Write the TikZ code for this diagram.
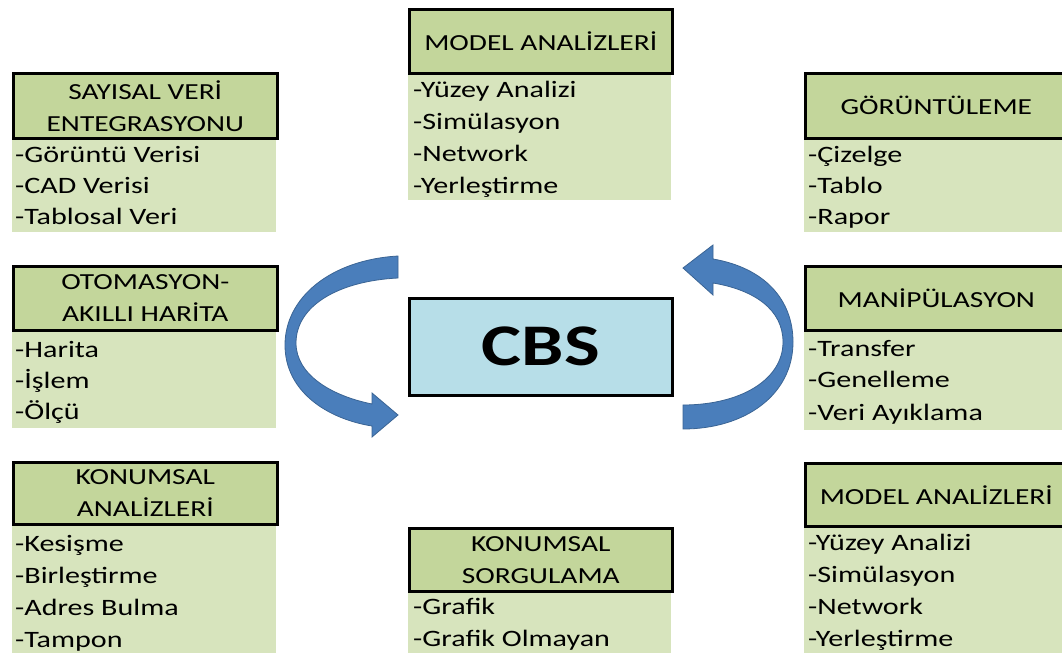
\documentclass[tikz,border=0pt]{standalone}
\usepackage{fontspec}
\setmainfont{Carlito}[FakeStretch=1.28]
\begin{document}
\begin{tikzpicture}[x=1pt,y=-1pt,
  hdr/.style={draw=black,line width=2.6pt,fill=hdrgreen,anchor=north west,inner sep=0pt,align=center,
    font=\fontsize{23}{32}\selectfont},
  bodybox/.style={fill=bodygreen,anchor=north west,inner sep=0pt},
  item/.style={anchor=base west,inner sep=0pt,font=\fontsize{23.5}{28}\selectfont},
  bigarrow/.style={fill=arrowblue,draw=arrowedge,line width=0.8pt}]
\definecolor{hdrgreen}{HTML}{C3D69B}
\definecolor{bodygreen}{HTML}{D7E4BD}
\definecolor{cbsblue}{HTML}{B7DEE8}
\definecolor{arrowblue}{HTML}{4A7EBB}
\definecolor{arrowedge}{HTML}{3A6494}
\useasboundingbox (0,0) rectangle (1062,655);
\fill[white] (0,0) rectangle (1062,655);

% ---------- left column ----------
\node[bodybox,minimum width=264pt,minimum height=95pt] (b1) at (12,137) {};
\node[hdr,minimum width=264pt,minimum height=65pt] (h1) at (12,72) {SAYISAL VERİ\\ENTEGRASYONU};
\node[item] (b1a) at (15,162.5) {-Görüntü Verisi};
\node[item] (b1b) at (15,193.5) {-CAD Verisi};
\node[item] (b1c) at (15,224.5) {-Tablosal Veri};

\node[bodybox,minimum width=264pt,minimum height=99pt] (b2) at (12,329) {};
\node[hdr,minimum width=264pt,minimum height=64pt] (h2) at (12,265) {OTOMASYON-\\AKILLI HARİTA};
\node[item] (b2a) at (15,357.5) {-Harita};
\node[item] (b2b) at (15,388.5) {-İşlem};
\node[item] (b2c) at (15,419.5) {-Ölçü};

\node[bodybox,minimum width=264pt,minimum height=130pt] (b3) at (12,523) {};
\node[hdr,minimum width=264pt,minimum height=62pt] (h3) at (12,461) {KONUMSAL\\ANALİZLERİ};
\node[item] (b3a) at (15,551.5) {-Kesişme};
\node[item] (b3b) at (15,583.5) {-Birleştirme};
\node[item] (b3c) at (15,615.5) {-Adres Bulma};
\node[item] (b3d) at (15,647.5) {-Tampon};

% ---------- middle column ----------
\node[bodybox,minimum width=263pt,minimum height=128pt] (b4) at (408,72) {};
\node[hdr,minimum width=263pt,minimum height=64pt] (h4) at (408,8) {MODEL ANALİZLERİ};
\node[item] (b4a) at (413,97.5) {-Yüzey Analizi};
\node[item] (b4b) at (413,129.5) {-Simülasyon};
\node[item] (b4c) at (413,161.5) {-Network};
\node[item] (b4d) at (413,193.5) {-Yerleştirme};

\node[draw=black,line width=2.6pt,fill=cbsblue,anchor=north west,inner sep=0pt,
  minimum width=263pt,minimum height=97pt,font=\fontsize{59}{60}\selectfont\bfseries] (cbs) at (408,297) {CBS};

\node[bodybox,minimum width=263pt,minimum height=63pt] (b5) at (408,590) {};
\node[hdr,minimum width=263pt,minimum height=63pt] (h5) at (408,527) {KONUMSAL\\SORGULAMA};
\node[item] (b5a) at (413,614.5) {-Grafik};
\node[item] (b5b) at (413,646.5) {-Grafik Olmayan};

% ---------- right column ----------
\node[bodybox,minimum width=262pt,minimum height=95pt] (b6) at (804,137) {};
\node[hdr,minimum width=262pt,minimum height=65pt] (h6) at (804,72) {GÖRÜNTÜLEME};
\node[item] (b6a) at (808,162.5) {-Çizelge};
\node[item] (b6b) at (808,193.5) {-Tablo};
\node[item] (b6c) at (808,224.5) {-Rapor};

\node[bodybox,minimum width=262pt,minimum height=101pt] (b7) at (804,329) {};
\node[hdr,minimum width=262pt,minimum height=64pt] (h7) at (804,265) {MANİPÜLASYON};
\node[item] (b7a) at (808,356.5) {-Transfer};
\node[item] (b7b) at (808,387.5) {-Genelleme};
\node[item] (b7c) at (808,420.5) {-Veri Ayıklama};

\node[bodybox,minimum width=262pt,minimum height=128pt] (b8) at (804,525) {};
\node[hdr,minimum width=262pt,minimum height=63pt] (h8) at (804,462) {MODEL ANALİZLERİ};
\node[item] (b8a) at (808,550.5) {-Yüzey Analizi};
\node[item] (b8b) at (808,582.5) {-Simülasyon};
\node[item] (b8c) at (808,614.5) {-Network};
\node[item] (b8d) at (808,646.5) {-Yerleştirme};

% ---------- curved arrows ----------
\draw[bigarrow] (398,256) .. controls (330,260) and (285,298) .. (285,345)
  .. controls (285,392) and (328,419) .. (372,426)
  -- (372,437) -- (398,415) -- (372,393) -- (372,404)
  .. controls (332,396) and (296,375) .. (296,343)
  .. controls (296,306) and (338,281) .. (398,278) -- cycle;

\draw[bigarrow] (713,259) .. controls (765,268) and (793,300) .. (793,342)
  .. controls (793,395) and (745,429) .. (683,429)
  -- (683,405)
  .. controls (740,405) and (783,380) .. (783,342)
  .. controls (783,310) and (755,290) .. (713,283)
  -- (713,295) -- (683,268) -- (713,245) -- cycle;
\end{tikzpicture}
\end{document}
